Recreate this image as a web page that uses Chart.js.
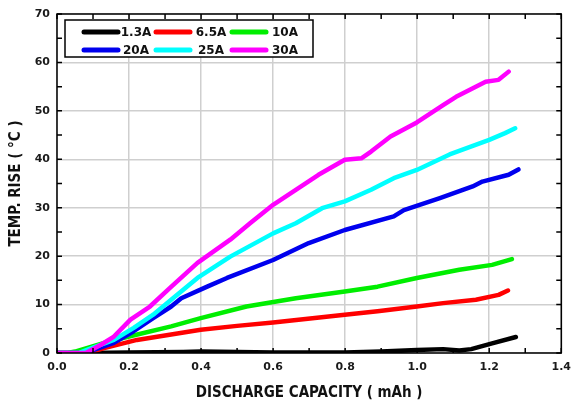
<!DOCTYPE html>
<html>
<head>
<meta charset="utf-8">
<script src="https://cdn.jsdelivr.net/npm/chart.js@4.4.1/dist/chart.umd.min.js"></script>
<style>
  html, body { margin: 0; padding: 0; background: #fff; }
  #wrap { width: 579px; height: 406px; }
</style>
</head>
<body>
<div id="wrap"><canvas id="tempChart"></canvas></div>
<script>
// series labels + colours
var seriesNames  = ['1.3A', '6.5A', '10A', '20A', '25A', '30A'];
var seriesColors = ['#000000', '#ff0000', '#00ee00', '#0000ee', '#00ffff', '#ff00ff'];

// discharge capacity (mAh) / temp rise (C)
var cap_1_3A  = [0, 0.08, 0.2, 0.35, 0.4, 0.5, 0.6, 0.8, 0.9, 1.0, 1.072, 1.117, 1.15, 1.208, 1.274];
var temp_1_3A = [0, 0, 0.1, 0.2, 0.3, 0.2, 0.1, 0.1, 0.3, 0.6, 0.8, 0.5, 0.8, 2.0, 3.3];

var cap_6_5A  = [0, 0.085, 0.131, 0.222, 0.317, 0.399, 0.5, 0.6, 0.69, 0.799, 0.89, 0.999, 1.072, 1.163, 1.226, 1.252];
var temp_6_5A = [0, 0, 1.0, 2.7, 3.8, 4.8, 5.6, 6.3, 7.0, 7.9, 8.6, 9.6, 10.3, 11.0, 12.0, 12.9];

var cap_10A   = [0, 0.03, 0.05, 0.131, 0.2, 0.317, 0.399, 0.526, 0.663, 0.799, 0.89, 0.999, 1.117, 1.208, 1.263];
var temp_10A  = [0, 0, 0.3, 2.1, 3.4, 5.5, 7.2, 9.6, 11.3, 12.7, 13.7, 15.5, 17.2, 18.2, 19.4];

var cap_20A   = [0, 0.07, 0.1, 0.158, 0.213, 0.267, 0.317, 0.345, 0.417, 0.472, 0.6, 0.699, 0.799, 0.935, 0.963, 1.063, 1.154, 1.181, 1.254, 1.281];
var temp_20A  = [0, 0, 0.6, 2.1, 4.5, 7.2, 9.6, 11.3, 13.7, 15.5, 19.2, 22.7, 25.4, 28.2, 29.5, 32.0, 34.4, 35.4, 36.8, 37.9];

var cap_25A   = [0, 0.06, 0.085, 0.158, 0.213, 0.267, 0.317, 0.39, 0.481, 0.6, 0.663, 0.736, 0.799, 0.872, 0.935, 0.999, 1.09, 1.2, 1.244, 1.272];
var temp_25A  = [0, 0, 0.7, 2.7, 5.2, 7.9, 11.0, 15.5, 19.9, 24.7, 26.8, 29.9, 31.3, 33.7, 36.1, 37.8, 41.0, 44.0, 45.4, 46.4];

var cap_30A   = [0, 0.08, 0.122, 0.158, 0.204, 0.258, 0.313, 0.39, 0.481, 0.536, 0.6, 0.663, 0.726, 0.799, 0.845, 0.872, 0.926, 0.999, 1.072, 1.108, 1.145, 1.19, 1.226, 1.254];
var temp_30A  = [0, 0, 1.7, 3.4, 6.9, 9.6, 13.4, 18.6, 23.4, 26.8, 30.6, 33.7, 36.8, 39.9, 40.2, 41.6, 44.7, 47.6, 51.2, 52.9, 54.3, 56.0, 56.4, 58.1];

var allCap  = [cap_1_3A, cap_6_5A, cap_10A, cap_20A, cap_25A, cap_30A];
var allTemp = [temp_1_3A, temp_6_5A, temp_10A, temp_20A, temp_25A, temp_30A];

// axis range / ticks
var xMin = 0, xMax = 1.4, xStep = 0.2, xMinor = 0.1;
var yMin = 0, yMax = 70,  yStep = 10,  yMinor = 5;

function toPoints(xs, ys) {
  var pts = [];
  for (var i = 0; i < xs.length; i++) pts.push({ x: xs[i], y: ys[i] });
  return pts;
}

var datasets = [];
for (var s = seriesNames.length - 1; s >= 0; s--) {
  datasets.push({
    label: seriesNames[s],
    data: toPoints(allCap[s], allTemp[s]),
    borderColor: seriesColors[s],
    backgroundColor: seriesColors[s],
    borderWidth: 4.5,
    borderCapStyle: 'round',
    borderJoinStyle: 'round',
    pointRadius: 0,
    tension: 0,
    fill: false
  });
}

var tickFont  = { family: "'DejaVu Sans', Verdana, sans-serif", size: 11, weight: 'bold' };
var titleFont = { family: "'DejaVu Sans Condensed', 'DejaVu Sans', sans-serif", size: 15, weight: 'bold' };

// frame + inward ticks on all four sides
var framePlugin = {
  id: 'frame',
  afterDatasetsDraw: function (chart) {
    var ctx = chart.ctx, a = chart.chartArea;
    var xs = chart.scales.x, ys = chart.scales.y;
    ctx.save();
    ctx.strokeStyle = '#000';
    ctx.lineWidth = 1.5;
    ctx.beginPath();
    var v, p, len = 5;
    for (v = xMin; v <= xMax + 1e-9; v += xMinor) {
      p = xs.getPixelForValue(v);
      ctx.moveTo(p, a.bottom); ctx.lineTo(p, a.bottom - len);
      ctx.moveTo(p, a.top);    ctx.lineTo(p, a.top + len);
    }
    for (v = yMin; v <= yMax + 1e-9; v += yMinor) {
      p = ys.getPixelForValue(v);
      ctx.moveTo(a.left, p);  ctx.lineTo(a.left + len, p);
      ctx.moveTo(a.right, p); ctx.lineTo(a.right - len, p);
    }
    ctx.stroke();
    ctx.strokeRect(a.left, a.top, a.right - a.left, a.bottom - a.top);
    ctx.restore();
  }
};

// boxed legend inside the plot, 3 columns x 2 rows
var legendPlugin = {
  id: 'boxLegend',
  afterDraw: function (chart) {
    var ctx = chart.ctx;
    var box = { x: 65, y: 20, w: 248, h: 37 };
    var rowY = [32, 50];
    var swX = [84, 156, 232], swW = 34;
    var labX = [136, 211, 285];
    ctx.save();
    ctx.fillStyle = '#fff';
    ctx.fillRect(box.x, box.y, box.w, box.h);
    ctx.strokeStyle = '#000';
    ctx.lineWidth = 1.5;
    ctx.strokeRect(box.x, box.y, box.w, box.h);
    ctx.font = "bold 12px 'DejaVu Sans', Verdana, sans-serif";
    ctx.textAlign = 'center';
    ctx.textBaseline = 'middle';
    for (var i = 0; i < seriesNames.length; i++) {
      var r = Math.floor(i / 3), c = i % 3;
      ctx.strokeStyle = seriesColors[i];
      ctx.lineWidth = 5;
      ctx.lineCap = 'round';
      ctx.beginPath();
      ctx.moveTo(swX[c], rowY[r]);
      ctx.lineTo(swX[c] + swW, rowY[r]);
      ctx.stroke();
      ctx.fillStyle = '#111';
      ctx.fillText(seriesNames[i], labX[c], rowY[r] + 1);
    }
    ctx.restore();
  }
};

new Chart(document.getElementById('tempChart'), {
  type: 'line',
  data: { datasets: datasets },
  options: {
    responsive: true,
    maintainAspectRatio: false,
    animation: false,
    layout: { padding: { top: 14, right: 10, left: 0, bottom: 0 } },
    plugins: {
      legend: { display: false },
      tooltip: { enabled: false }
    },
    scales: {
      x: {
        type: 'linear',
        min: xMin, max: xMax,
        afterFit: function (scale) { scale.height = 53; },
        ticks: {
          stepSize: xStep,
          color: '#1a1a1a',
          font: tickFont,
          padding: 8,
          maxRotation: 0,
          callback: function (v) { return v.toFixed(1); }
        },
        grid: { color: '#cfcfcf', lineWidth: 1.5, drawTicks: false },
        border: { display: false },
        title: {
          display: true,
          text: 'DISCHARGE CAPACITY ( mAh )',
          color: '#111',
          font: titleFont,
          padding: { top: 0, bottom: 4 }
        }
      },
      y: {
        type: 'linear',
        min: yMin, max: yMax,
        afterFit: function (scale) { scale.width = 57; },
        ticks: {
          stepSize: yStep,
          color: '#1a1a1a',
          font: tickFont,
          padding: 7
        },
        grid: { color: '#cfcfcf', lineWidth: 1.5, drawTicks: false },
        border: { display: false },
        title: {
          display: true,
          text: 'TEMP. RISE ( °C )',
          color: '#111',
          font: titleFont,
          padding: { top: 7, bottom: 0 }
        }
      }
    }
  },
  plugins: [framePlugin, legendPlugin]
});
</script>
</body>
</html>
